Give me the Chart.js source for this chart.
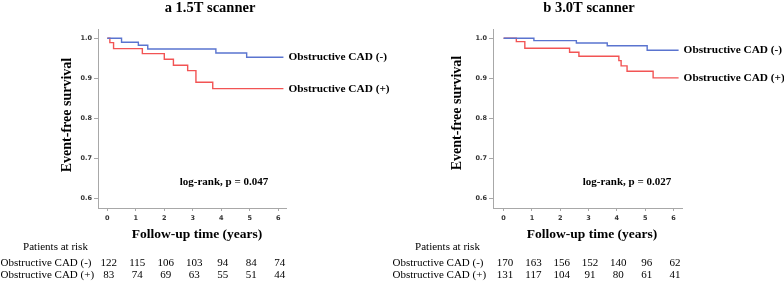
<!DOCTYPE html>
<html>
<head>
<meta charset="utf-8">
<script src="https://cdn.jsdelivr.net/npm/chart.js@4/dist/chart.umd.min.js"></script>
<style>
  html, body { margin: 0; padding: 0; background: #fff; }
  #wrap { position: relative; width: 784px; height: 281px; }
  .panel { position: absolute; top: 0; width: 392px; height: 281px; }
</style>
</head>
<body>
<div id="wrap">
  <div class="panel" style="left:0"><canvas id="ca" width="392" height="281"></canvas></div>
  <div class="panel" style="left:392px"><canvas id="cb" width="392" height="281"></canvas></div>
</div>
<script>
// ---- data ----
const yearTicks = [0, 1, 2, 3, 4, 5, 6];
const survTicks = [0.6, 0.7, 0.8, 0.9, 1.0];
const groupLabels = ['Obstructive CAD (-)', 'Obstructive CAD (+)'];

// Panel a: 1.5T scanner
const aNegT = [0, 0.50, 1.09, 1.42, 3.81, 4.89, 6.18];
const aNegS = [1.000, 0.990, 0.9825, 0.973, 0.963, 0.9525, 0.9525];
const aPosT = [0, 0.09, 0.22, 1.23, 2.00, 2.32, 2.82, 3.11, 3.70, 6.18];
const aPosS = [1.000, 0.989, 0.974, 0.9615, 0.9475, 0.9325, 0.919, 0.890, 0.874, 0.874];
const aRiskNeg = [122, 115, 106, 103, 94, 84, 74];
const aRiskPos = [83, 74, 69, 63, 55, 51, 44];

// Panel b: 3.0T scanner
const bNegT = [0, 1.07, 2.57, 3.66, 5.07, 6.18];
const bNegS = [1.000, 0.994, 0.988, 0.981, 0.970, 0.970];
const bPosT = [0, 0.45, 0.75, 2.33, 2.66, 4.07, 4.15, 4.36, 5.28, 6.18];
const bPosS = [1.000, 0.9915, 0.975, 0.965, 0.955, 0.944, 0.931, 0.9175, 0.901, 0.901];
const bRiskNeg = [170, 163, 156, 152, 140, 96, 62];
const bRiskPos = [131, 117, 104, 91, 80, 61, 41];

const BLUE = '#5a74cf';
const RED = '#f25454';
const AXIS = '#a8a8a8';
const SERIF = "'Liberation Serif', 'Times New Roman', serif";
const TICKFONT = { family: "'DejaVu Sans', Verdana, sans-serif", size: 6.5, weight: 'bold' };

function pts(t, s) { return t.map((x, i) => ({ x: x, y: s[i] })); }

function makeChart(id, cfg) {
  const textPlugin = {
    id: 'texts',
    afterDraw(chart) {
      const ctx = chart.ctx;
      const xs = chart.scales.x, ys = chart.scales.y;
      ctx.save();
      ctx.fillStyle = '#000';
      // title
      ctx.font = 'bold 14.5px ' + SERIF;
      ctx.textAlign = 'center';
      ctx.textBaseline = 'alphabetic';
      ctx.fillText(cfg.title, cfg.titleX, 12);
      // y axis title
      ctx.font = 'bold 14px ' + SERIF;
      ctx.save();
      ctx.translate(cfg.yTitleX, cfg.yTitleY);
      ctx.rotate(-Math.PI / 2);
      ctx.textBaseline = 'middle';
      ctx.fillText('Event-free survival', 0, 0);
      ctx.restore();
      // x axis title
      ctx.font = 'bold 13.5px ' + SERIF;
      ctx.textBaseline = 'middle';
      ctx.fillText('Follow-up time (years)', cfg.xTitleX, 234.5);
      // log-rank
      ctx.font = 'bold 11px ' + SERIF;
      ctx.fillText(cfg.logrank, cfg.logX, 182);
      // curve labels
      ctx.font = 'bold 11.3px ' + SERIF;
      ctx.textAlign = 'left';
      chart.data.datasets.forEach((ds, i) => {
        const last = ds.data[ds.data.length - 1];
        ctx.fillText(groupLabels[i], xs.getPixelForValue(last.x) + 5, ys.getPixelForValue(last.y));
      });
      // risk table
      ctx.font = '11px ' + SERIF;
      ctx.textAlign = 'center';
      ctx.fillText('Patients at risk', 55.5, 247);
      ctx.textAlign = 'left';
      ctx.fillText(groupLabels[0], 0.5, 263);
      ctx.fillText(groupLabels[1], 0.5, 275.5);
      ctx.textAlign = 'center';
      yearTicks.forEach((yr, i) => {
        const px = xs.getPixelForValue(yr);
        ctx.fillText(String(cfg.riskNeg[i]), px + 1.5, 263);
        ctx.fillText(String(cfg.riskPos[i]), px + 1.5, 275.5);
      });
      ctx.restore();
    }
  };

  return new Chart(document.getElementById(id), {
    type: 'line',
    data: {
      datasets: [
        { label: groupLabels[0], data: pts(cfg.negT, cfg.negS), borderColor: BLUE, borderWidth: 1.4, stepped: true, pointRadius: 0, fill: false },
        { label: groupLabels[1], data: pts(cfg.posT, cfg.posS), borderColor: RED, borderWidth: 1.4, stepped: true, pointRadius: 0, fill: false }
      ]
    },
    options: {
      responsive: false,
      animation: false,
      events: [],
      layout: { padding: { top: 29, right: cfg.padRight, left: 0, bottom: 0 } },
      plugins: { legend: { display: false }, tooltip: { enabled: false }, title: { display: false } },
      scales: {
        x: {
          type: 'linear',
          min: cfg.xMin, max: cfg.xMax,
          afterBuildTicks(s) { s.ticks = yearTicks.map(v => ({ value: v })); },
          afterFit(s) { s.height = 73; },
          grid: { drawOnChartArea: false, drawTicks: true, tickLength: 3, color: AXIS, lineWidth: 1 },
          border: { display: true, color: AXIS, width: 1 },
          ticks: { autoSkip: false, maxRotation: 0, padding: 3, color: '#333', font: TICKFONT, callback: v => String(v) }
        },
        y: {
          type: 'linear',
          min: 0.576, max: 1.023,
          afterBuildTicks(s) { s.ticks = survTicks.map(v => ({ value: v })); },
          afterFit(s) { s.width = cfg.yWidth; },
          grid: { drawOnChartArea: false, drawTicks: true, tickLength: 4, color: AXIS, lineWidth: 1 },
          border: { display: true, color: AXIS, width: 1 },
          ticks: { autoSkip: false, padding: 2, color: '#333', font: TICKFONT, callback: v => Number(v).toFixed(1) }
        }
      }
    },
    plugins: [textPlugin]
  });
}

makeChart('ca', {
  title: 'a 1.5T scanner', titleX: 210,
  yTitleX: 67, yTitleY: 115, xTitleX: 197,
  logrank: 'log-rank, p = 0.047', logX: 224,
  negT: aNegT, negS: aNegS, posT: aPosT, posS: aPosS,
  riskNeg: aRiskNeg, riskPos: aRiskPos,
  xMin: -0.326, xMax: 6.27, yWidth: 98, padRight: 106
});

makeChart('cb', {
  title: 'b 3.0T scanner', titleX: 197,
  yTitleX: 65, yTitleY: 113, xTitleX: 200,
  logrank: 'log-rank, p = 0.027', logX: 235,
  negT: bNegT, negS: bNegS, posT: bPosT, posS: bPosS,
  riskNeg: bRiskNeg, riskPos: bRiskPos,
  xMin: -0.374, xMax: 6.30, yWidth: 101, padRight: 102
});
</script>
</body>
</html>
